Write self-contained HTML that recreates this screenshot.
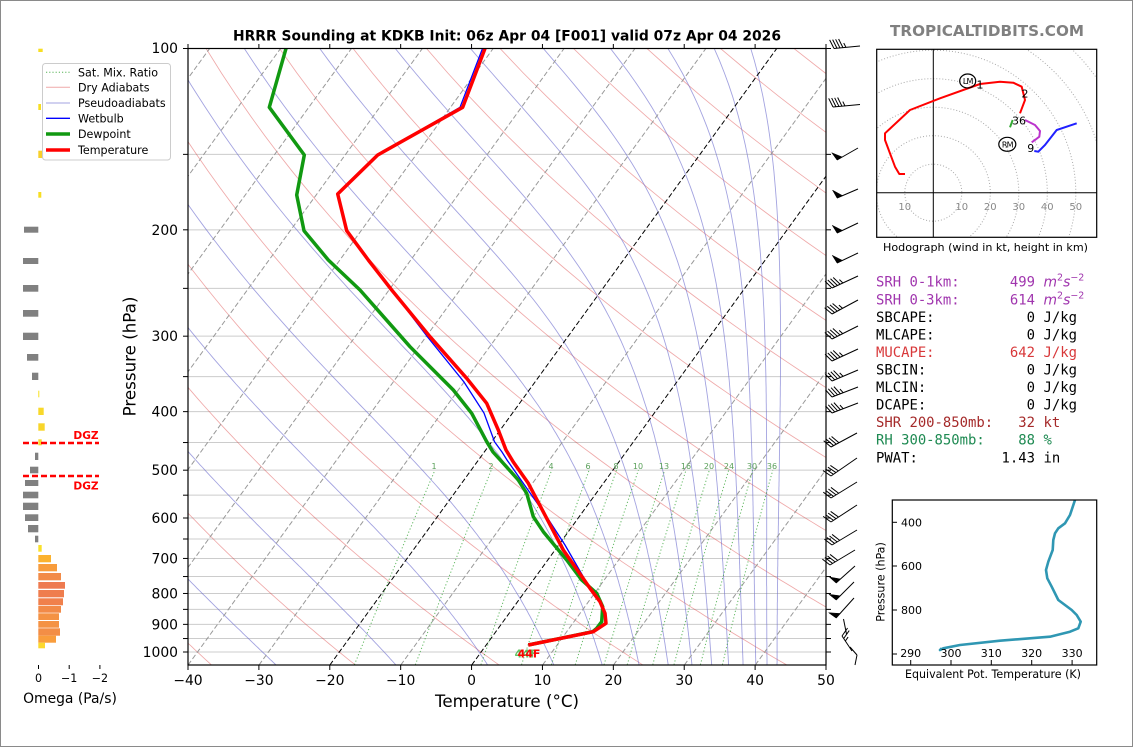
<!DOCTYPE html>
<html><head><meta charset="utf-8">
<style>
html,body{margin:0;padding:0;background:#fff;}
svg{display:block;}
text{font-family:"DejaVu Sans","Liberation Sans",sans-serif;}
.mono text,text.mono{font-family:"DejaVu Sans Mono","Liberation Mono",monospace;font-size:13.9px;}
.mono tspan.it{font-family:"DejaVu Sans","Liberation Sans",sans-serif;font-style:italic;}
.mono tspan.sup{font-family:"DejaVu Sans","Liberation Sans",sans-serif;font-size:9.5px;}
</style></head>
<body>
<svg id="S" width="1134" height="748" viewBox="0 0 1134 748" xmlns="http://www.w3.org/2000/svg">
<rect x="0" y="0" width="1134" height="748" fill="#fff"/>
<rect x="0.5" y="0.5" width="1132" height="746" fill="none" stroke="#8a8a8a" stroke-width="1"/>
<defs>
<clipPath id="cm"><rect x="188" y="48.5" width="638" height="616.5"/></clipPath>
<clipPath id="ch"><rect x="877" y="49.5" width="219.5" height="187.5"/></clipPath>
<clipPath id="ct"><rect x="892.5" y="500" width="204" height="165"/></clipPath>
</defs>

<!-- Title -->
<text x="507" y="40.7" text-anchor="middle" font-weight="bold" font-size="13.9" textLength="548" lengthAdjust="spacingAndGlyphs">HRRR Sounding at KDKB Init: 06z Apr 04 [F001] valid 07z Apr 04 2026</text>
<text x="987" y="36" text-anchor="middle" font-weight="bold" font-size="15.5" fill="#808080" textLength="194" lengthAdjust="spacingAndGlyphs">TROPICALTIDBITS.COM</text>

<!-- Main plot gridlines -->
<g stroke="#cccccc" stroke-width="1">
<line x1="188" x2="826" y1="154.36" y2="154.36"/>
<line x1="188" x2="826" y1="229.82" y2="229.82"/>
<line x1="188" x2="826" y1="288.36" y2="288.36"/>
<line x1="188" x2="826" y1="336.18" y2="336.18"/>
<line x1="188" x2="826" y1="376.62" y2="376.62"/>
<line x1="188" x2="826" y1="411.64" y2="411.64"/>
<line x1="188" x2="826" y1="442.54" y2="442.54"/>
<line x1="188" x2="826" y1="470.18" y2="470.18"/>
<line x1="188" x2="826" y1="495.18" y2="495.18"/>
<line x1="188" x2="826" y1="518" y2="518"/>
<line x1="188" x2="826" y1="539" y2="539"/>
<line x1="188" x2="826" y1="558.44" y2="558.44"/>
<line x1="188" x2="826" y1="576.54" y2="576.54"/>
<line x1="188" x2="826" y1="593.47" y2="593.47"/>
<line x1="188" x2="826" y1="609.37" y2="609.37"/>
<line x1="188" x2="826" y1="624.36" y2="624.36"/>
<line x1="188" x2="826" y1="638.54" y2="638.54"/>
<line x1="188" x2="826" y1="652" y2="652"/>
</g>

<g clip-path="url(#cm)">
<g id="bg"></g>
<!-- mixing ratio labels -->
<g font-size="8" fill="#5aa05a" text-anchor="middle">
<text x="434" y="469">1</text><text x="491" y="469">2</text><text x="551" y="469">4</text><text x="588" y="469">6</text>
<text x="616" y="469">8</text><text x="638" y="469">10</text><text x="664" y="469">13</text><text x="686" y="469">16</text>
<text x="709" y="469">20</text><text x="729" y="469">24</text><text x="752" y="469">30</text><text x="772" y="469">36</text>
</g>
<!-- Dewpoint -->
<polyline fill="none" stroke="#119911" stroke-width="3.5" stroke-linejoin="round" points="286,48.5 269.3,107.3 304.3,155 296.7,195 304,230.7 328.3,260 360,290 410,346.7 453.3,390 471.7,413.3 486.7,441.7 493,452 503,463 518.3,480 526.7,493.3 533.3,516.7 543.3,531.7 566.7,560 581.7,580 596.7,593.3 602.7,606.7 601.7,621.7 596.7,628.3 592.7,631.7 528.3,645"/>
<!-- Wetbulb -->
<polyline fill="none" stroke="#0000ff" stroke-width="1.3" points="482.5,48.5 460,107.3 377.7,155 337.7,194 346.7,230.7 368.3,260 391.7,290 428,337.5 464,382 484,413 494.5,441.7 502,452 507,460 521,480 546.7,516.7 565,545 588,585 600,601.7 605,613.3 606,623.3 593.3,631.7 528.3,645"/>
<!-- Temperature -->
<polyline fill="none" stroke="#ff0000" stroke-width="3.5" stroke-linejoin="round" points="485,48.5 462.7,107.3 377.7,155 337.7,194 346.7,230.7 368.3,260 391.7,290 430,336.7 466.7,378.3 486.7,403.3 498.3,430 506,450 513.3,462 528.3,483.3 563.3,550 590,588.3 600,601.7 605,613.3 606,623.3 593.3,631.7 528.3,645"/>
<text x="526" y="657.5" text-anchor="middle" font-weight="bold" font-size="11" fill="#22aa22" opacity="0.7">44F</text>
<text x="529" y="657.5" text-anchor="middle" font-weight="bold" font-size="11" fill="#ff0000">44F</text>
</g>

<!-- Main axes frame -->
<rect x="188" y="48.5" width="638" height="616.5" fill="none" stroke="#000" stroke-width="1.2"/>
<g stroke="#000" stroke-width="1">
<line x1="183" x2="188" y1="48.5" y2="48.5"/><line x1="183" x2="188" y1="154.36" y2="154.36"/><line x1="183" x2="188" y1="229.82" y2="229.82"/>
<line x1="183" x2="188" y1="288.36" y2="288.36"/><line x1="183" x2="188" y1="336.18" y2="336.18"/><line x1="183" x2="188" y1="376.62" y2="376.62"/>
<line x1="183" x2="188" y1="411.64" y2="411.64"/><line x1="183" x2="188" y1="442.54" y2="442.54"/><line x1="183" x2="188" y1="470.18" y2="470.18"/>
<line x1="183" x2="188" y1="495.18" y2="495.18"/><line x1="183" x2="188" y1="518" y2="518"/><line x1="183" x2="188" y1="539" y2="539"/>
<line x1="183" x2="188" y1="558.44" y2="558.44"/><line x1="183" x2="188" y1="576.54" y2="576.54"/><line x1="183" x2="188" y1="593.47" y2="593.47"/>
<line x1="183" x2="188" y1="609.37" y2="609.37"/><line x1="183" x2="188" y1="624.36" y2="624.36"/><line x1="183" x2="188" y1="638.54" y2="638.54"/>
<line x1="183" x2="188" y1="652" y2="652"/>
<line x1="826" x2="831" y1="48.5" y2="48.5"/><line x1="826" x2="831" y1="154.36" y2="154.36"/><line x1="826" x2="831" y1="229.82" y2="229.82"/>
<line x1="826" x2="831" y1="288.36" y2="288.36"/><line x1="826" x2="831" y1="336.18" y2="336.18"/><line x1="826" x2="831" y1="376.62" y2="376.62"/>
<line x1="826" x2="831" y1="411.64" y2="411.64"/><line x1="826" x2="831" y1="442.54" y2="442.54"/><line x1="826" x2="831" y1="470.18" y2="470.18"/>
<line x1="826" x2="831" y1="495.18" y2="495.18"/><line x1="826" x2="831" y1="518" y2="518"/><line x1="826" x2="831" y1="539" y2="539"/>
<line x1="826" x2="831" y1="558.44" y2="558.44"/><line x1="826" x2="831" y1="576.54" y2="576.54"/><line x1="826" x2="831" y1="593.47" y2="593.47"/>
<line x1="826" x2="831" y1="609.37" y2="609.37"/><line x1="826" x2="831" y1="624.36" y2="624.36"/><line x1="826" x2="831" y1="638.54" y2="638.54"/>
<line x1="826" x2="831" y1="652" y2="652"/>
<line x1="188" x2="188" y1="665" y2="670"/><line x1="258.89" x2="258.89" y1="665" y2="670"/><line x1="329.78" x2="329.78" y1="665" y2="670"/>
<line x1="400.67" x2="400.67" y1="665" y2="670"/><line x1="471.56" x2="471.56" y1="665" y2="670"/><line x1="542.44" x2="542.44" y1="665" y2="670"/>
<line x1="613.33" x2="613.33" y1="665" y2="670"/><line x1="684.22" x2="684.22" y1="665" y2="670"/><line x1="755.11" x2="755.11" y1="665" y2="670"/>
<line x1="826" x2="826" y1="665" y2="670"/>
<line x1="188" x2="188" y1="44" y2="48.5"/><line x1="258.89" x2="258.89" y1="44" y2="48.5"/><line x1="329.78" x2="329.78" y1="44" y2="48.5"/>
<line x1="400.67" x2="400.67" y1="44" y2="48.5"/><line x1="471.56" x2="471.56" y1="44" y2="48.5"/><line x1="542.44" x2="542.44" y1="44" y2="48.5"/>
<line x1="613.33" x2="613.33" y1="44" y2="48.5"/><line x1="684.22" x2="684.22" y1="44" y2="48.5"/><line x1="755.11" x2="755.11" y1="44" y2="48.5"/>
<line x1="826" x2="826" y1="44" y2="48.5"/>
</g>
<g font-size="13.9" text-anchor="end">
<text x="178" y="53">100</text><text x="178" y="234.8">200</text><text x="178" y="341.2">300</text><text x="178" y="416.6">400</text>
<text x="178" y="475.2">500</text><text x="178" y="523">600</text><text x="178" y="563.4">700</text><text x="178" y="598.5">800</text>
<text x="178" y="629.4">900</text><text x="178" y="657">1000</text>
</g>
<g font-size="13.9" text-anchor="middle">
<text x="188" y="685">−40</text><text x="258.89" y="685">−30</text><text x="329.78" y="685">−20</text><text x="400.67" y="685">−10</text>
<text x="471.56" y="685">0</text><text x="542.44" y="685">10</text><text x="613.33" y="685">20</text><text x="684.22" y="685">30</text>
<text x="755.11" y="685">40</text><text x="826" y="685">50</text>
</g>
<text x="507" y="707" text-anchor="middle" font-size="16.7">Temperature (°C)</text>
<text transform="translate(135.5,356.5) rotate(-90)" text-anchor="middle" font-size="16.7">Pressure (hPa)</text>

<!-- Wind barbs -->
<g id="barbs" stroke="#000" stroke-width="1" fill="#000"></g>

<!-- Omega panel -->
<g>
<rect x="38.3" y="48.7" width="4.4" height="3.3" fill="#f7de22"/>
<rect x="38.3" y="104" width="2.7" height="6" fill="#f7de22"/>
<rect x="38.3" y="150.7" width="5" height="7.3" fill="#f8d02a"/>
<rect x="38.3" y="192" width="3" height="5.7" fill="#f7de22"/>
<g fill="#808080">
<rect x="24" y="226.7" width="14.3" height="6"/>
<rect x="23" y="258" width="15.3" height="6"/>
<rect x="23" y="285" width="15.3" height="6.7"/>
<rect x="23" y="310" width="15.3" height="6.7"/>
<rect x="23" y="332.7" width="15.3" height="7.3"/>
<rect x="27" y="354" width="11.3" height="6.7"/>
<rect x="32" y="372.7" width="6.3" height="7.3"/>
<rect x="35" y="452.7" width="3.3" height="7.3"/>
<rect x="30" y="466.7" width="8.3" height="6.6"/>
<rect x="25" y="480" width="13.3" height="6"/>
<rect x="23" y="491.7" width="15.3" height="6.6"/>
<rect x="23" y="502.7" width="15.3" height="7.3"/>
<rect x="25" y="514.3" width="13.3" height="6.7"/>
<rect x="28" y="525" width="10.3" height="7.3"/>
<rect x="35" y="535.7" width="3.3" height="6.6"/>
</g>
<rect x="38.3" y="390.7" width="1" height="6.6" fill="#f7e020"/>
<rect x="38.3" y="407.7" width="5.4" height="7.3" fill="#f8d82a"/>
<rect x="38.3" y="423.3" width="6.4" height="7.4" fill="#f8d52a"/>
<rect x="38.3" y="439.3" width="3.4" height="6" fill="#f8d82a"/>
<rect x="38.3" y="545" width="3.4" height="6.7" fill="#f9e02a"/>
<rect x="38.3" y="555" width="12.7" height="7.3" fill="#fbb22e"/>
<rect x="38.3" y="564" width="18.7" height="7.3" fill="#f89c3c"/>
<rect x="38.3" y="573" width="22.7" height="7.3" fill="#f28b48"/>
<rect x="38.3" y="582" width="26.7" height="6.7" fill="#ee7a50"/>
<rect x="38.3" y="590" width="25.7" height="7.3" fill="#ef7d4e"/>
<rect x="38.3" y="598.3" width="24.7" height="7" fill="#f0804c"/>
<rect x="38.3" y="606" width="22.7" height="6.7" fill="#f28a48"/>
<rect x="38.3" y="613.3" width="20.7" height="6.7" fill="#f49244"/>
<rect x="38.3" y="621" width="20.7" height="6.7" fill="#f49244"/>
<rect x="38.3" y="628.3" width="21.7" height="7.4" fill="#f38e46"/>
<rect x="38.3" y="635.7" width="17.7" height="7" fill="#f99d3c"/>
<rect x="38.3" y="642.7" width="6.7" height="5.6" fill="#fcd82e"/>
<g stroke="#ff0000" stroke-width="2.5" stroke-dasharray="6,3">
<line x1="23" x2="99" y1="443" y2="443"/>
<line x1="23" x2="99" y1="476" y2="476"/>
</g>
<text x="86" y="439" text-anchor="middle" font-weight="bold" font-size="10.6" fill="#ff0000">DGZ</text>
<text x="86" y="489.5" text-anchor="middle" font-weight="bold" font-size="10.6" fill="#ff0000">DGZ</text>
<g stroke="#000" stroke-width="1">
<line x1="38.5" x2="38.5" y1="665" y2="669"/><line x1="69.2" x2="69.2" y1="665" y2="669"/><line x1="99.9" x2="99.9" y1="665" y2="669"/>
</g>
<g font-size="11.1" text-anchor="middle">
<text x="38.5" y="682">0</text><text x="69.2" y="682">−1</text><text x="99.9" y="682">−2</text>
</g>
<text x="70" y="703" text-anchor="middle" font-size="13.9">Omega (Pa/s)</text>
</g>

<!-- Legend -->
<rect x="42.5" y="63.5" width="128" height="96.5" rx="3" fill="#fff" fill-opacity="0.85" stroke="#cccccc" stroke-width="1"/>
<line x1="46" x2="70" y1="72.3" y2="72.3" stroke="#2ca02c" stroke-opacity="0.8" stroke-width="1" stroke-dasharray="1.2,2"/>
<line x1="46" x2="70" y1="87.3" y2="87.3" stroke="#d62728" stroke-opacity="0.4" stroke-width="1"/>
<line x1="46" x2="70" y1="103" y2="103" stroke="#6666cc" stroke-opacity="0.6" stroke-width="1"/>
<line x1="46" x2="70" y1="118.3" y2="118.3" stroke="#0000ff" stroke-width="1.3"/>
<line x1="46" x2="70" y1="134" y2="134" stroke="#119911" stroke-width="3.5"/>
<line x1="46" x2="70" y1="150" y2="150" stroke="#ff0000" stroke-width="3.5"/>
<g font-size="11.1">
<text x="78" y="76.3">Sat. Mix. Ratio</text>
<text x="78" y="91.3">Dry Adiabats</text>
<text x="78" y="107">Pseudoadiabats</text>
<text x="78" y="122.3">Wetbulb</text>
<text x="78" y="138">Dewpoint</text>
<text x="78" y="154">Temperature</text>
</g>

<!-- Hodograph -->
<g clip-path="url(#ch)">
<g fill="none" stroke="#aaaaaa" stroke-width="1" stroke-dasharray="1,2">
<circle cx="933.3" cy="192.7" r="28.5"/><circle cx="933.3" cy="192.7" r="57"/><circle cx="933.3" cy="192.7" r="85.5"/>
<circle cx="933.3" cy="192.7" r="114"/><circle cx="933.3" cy="192.7" r="142.5"/><circle cx="933.3" cy="192.7" r="171"/>
<circle cx="933.3" cy="192.7" r="199.5"/><circle cx="933.3" cy="192.7" r="228"/>
</g>
<line x1="933.3" x2="933.3" y1="49" y2="237.5" stroke="#000" stroke-width="1"/>
<line x1="876.5" x2="1096.5" y1="192.7" y2="192.7" stroke="#000" stroke-width="1"/>
<g font-size="10" fill="#888" text-anchor="middle">
<text x="904.8" y="210">10</text><text x="961.8" y="210">10</text><text x="990.3" y="210">20</text>
<text x="1018.8" y="210">30</text><text x="1047.3" y="210">40</text><text x="1075.8" y="210">50</text>
</g>
<polyline fill="none" stroke="#ff0000" stroke-width="2" stroke-linejoin="round" points="905,174 899.3,174 895,166.7 885,140 885,133.3 910,110 940,98.3 980,84 1000,81.7 1013.3,82.7 1021.7,86.7 1025,100 1020,113.3"/>
<polyline fill="none" stroke="#33aa33" stroke-width="2" points="1010,127.3 1012.7,120"/>
<polyline fill="none" stroke="#bb33cc" stroke-width="2" points="1025,120 1035,125 1040,131 1039.3,136.7 1035,140 1031.7,142.3"/>
<polyline fill="none" stroke="#2020ff" stroke-width="2" points="1034.3,151 1038.3,151.7 1045,145 1056.7,130 1076.7,123.3"/>
<ellipse cx="967.7" cy="81" rx="8" ry="7" fill="none" stroke="#000" stroke-width="1.2"/>
<text x="967.7" y="84" text-anchor="middle" font-size="8" letter-spacing="-0.8">LM</text>
<ellipse cx="1007.3" cy="144.3" rx="8.5" ry="7" fill="none" stroke="#000" stroke-width="1.2"/>
<text x="1007.3" y="147.3" text-anchor="middle" font-size="8" letter-spacing="-0.8">RM</text>
<g font-size="11" text-anchor="middle">
<text x="980" y="88.5">1</text><text x="1025" y="97.5">2</text><text x="1019" y="124.5">36</text><text x="1030.7" y="152">9</text>
</g>
</g>
<rect x="876.7" y="49.3" width="220" height="188" fill="none" stroke="#000" stroke-width="1.2"/>
<text x="985.5" y="251" text-anchor="middle" font-size="11" textLength="205" lengthAdjust="spacingAndGlyphs">Hodograph (wind in kt, height in km)</text>

<!-- Stats -->
<g class="mono">
<text x="876" y="286.7" fill="#a035ae">SRH 0-1km:</text>
<text x="1035" y="286.7" fill="#a035ae" text-anchor="end">499</text>
<text x="1043.5" y="286.7" fill="#a035ae"><tspan class="it">m</tspan><tspan class="sup" dy="-6">2</tspan><tspan class="it" dy="6">s</tspan><tspan class="sup" dy="-6">−2</tspan></text>
<text x="876" y="304.3" fill="#a035ae">SRH 0-3km:</text>
<text x="1035" y="304.3" fill="#a035ae" text-anchor="end">614</text>
<text x="1043.5" y="304.3" fill="#a035ae"><tspan class="it">m</tspan><tspan class="sup" dy="-6">2</tspan><tspan class="it" dy="6">s</tspan><tspan class="sup" dy="-6">−2</tspan></text>
<text x="876" y="321.8">SBCAPE:</text><text x="1035" y="321.8" text-anchor="end">0</text><text x="1043.5" y="321.8">J/kg</text>
<text x="876" y="339.4">MLCAPE:</text><text x="1035" y="339.4" text-anchor="end">0</text><text x="1043.5" y="339.4">J/kg</text>
<text x="876" y="356.9" fill="#d8383a">MUCAPE:</text><text x="1035" y="356.9" text-anchor="end" fill="#d8383a">642</text><text x="1043.5" y="356.9" fill="#d8383a">J/kg</text>
<text x="876" y="374.5">SBCIN:</text><text x="1035" y="374.5" text-anchor="end">0</text><text x="1043.5" y="374.5">J/kg</text>
<text x="876" y="392.1">MLCIN:</text><text x="1035" y="392.1" text-anchor="end">0</text><text x="1043.5" y="392.1">J/kg</text>
<text x="876" y="409.6">DCAPE:</text><text x="1035" y="409.6" text-anchor="end">0</text><text x="1043.5" y="409.6">J/kg</text>
<text x="876" y="427.2" fill="#a52a2a">SHR 200-850mb:</text><text x="1035" y="427.2" text-anchor="end" fill="#a52a2a">32</text><text x="1043.5" y="427.2" fill="#a52a2a">kt</text>
<text x="876" y="444.7" fill="#1e8a52">RH 300-850mb:</text><text x="1035" y="444.7" text-anchor="end" fill="#1e8a52">88</text><text x="1043.5" y="444.7" fill="#1e8a52">%</text>
<text x="876" y="462.3">PWAT:</text><text x="1035" y="462.3" text-anchor="end">1.43</text><text x="1043.5" y="462.3">in</text>
</g>

<!-- Theta-e panel -->
<g clip-path="url(#ct)">
<polyline fill="none" stroke="#2f97b3" stroke-width="2.6" stroke-linejoin="round" points="1075,500 1070,515 1065,523.3 1058.3,528.3 1055,533.3 1053.3,540 1052.7,550 1048.3,561.7 1046,570 1047.3,578.3 1051.7,586.7 1058.3,600 1065,605 1071.7,610 1076.7,615 1080.7,621.7 1078.3,628.3 1070,631.7 1050,636.7 1000,640.7 960,645 943.3,648.3 940,650 941.7,648.3"/>
</g>
<rect x="892.3" y="500" width="204.4" height="165" fill="none" stroke="#000" stroke-width="1.2"/>
<g stroke="#000" stroke-width="1">
<line x1="892.3" x2="897" y1="522.3" y2="522.3"/><line x1="892.3" x2="897" y1="566" y2="566"/>
<line x1="892.3" x2="897" y1="610" y2="610"/><line x1="892.3" x2="897" y1="654" y2="654"/>
<line x1="910.7" x2="910.7" y1="660" y2="665"/><line x1="951" x2="951" y1="660" y2="665"/><line x1="991.3" x2="991.3" y1="660" y2="665"/>
<line x1="1031.7" x2="1031.7" y1="660" y2="665"/><line x1="1072.1" x2="1072.1" y1="660" y2="665"/>
</g>
<g font-size="11" text-anchor="end">
<text x="922" y="526.3">400</text><text x="922" y="570">600</text><text x="922" y="614">800</text>
</g>
<g font-size="11" text-anchor="middle">
<text x="910.7" y="657">290</text><text x="951" y="657">300</text><text x="991.3" y="657">310</text>
<text x="1031.7" y="657">320</text><text x="1072.1" y="657">330</text>
</g>
<text x="993" y="678" text-anchor="middle" font-size="11.1" textLength="176" lengthAdjust="spacingAndGlyphs">Equivalent Pot. Temperature (K)</text>
<text transform="translate(884.5,582) rotate(-90)" text-anchor="middle" font-size="11.1">Pressure (hPa)</text>
</svg>

<script>
(function(){
var NS="http://www.w3.org/2000/svg";
var PX=638/90, SK=0.725;
function yp(p){return 48+604*Math.log10(p/100);}
function xt(T,p){return 188+(T+40)*PX+SK*(665-yp(p));}
function poly(g,pts,attrs){var e=document.createElementNS(NS,'polyline');
 e.setAttribute('points',pts.map(function(a){return a[0].toFixed(1)+','+a[1].toFixed(1);}).join(' '));
 e.setAttribute('fill','none');for(var k in attrs)e.setAttribute(k,attrs[k]);g.appendChild(e);}
var g=document.getElementById('bg');
for(var th=-60;th<=260;th+=20){var pts=[];for(var p=1050;p>=100;p-=10){var T=(th+273.15)*Math.pow(p/1000,0.2857)-273.15;pts.push([xt(T,p),yp(p)]);}
 poly(g,pts,{stroke:'#d62728','stroke-opacity':'0.4','stroke-width':'0.85'});}
function es(Tc){return 6.112*Math.exp(17.67*Tc/(Tc+243.5));}
function rsat(Tk,p){var e=es(Tk-273.15);return 0.622*e/Math.max(p-e,1);}
function thetaE(Tk,p){var r=rsat(Tk,p)*1000;var thl=Tk*Math.pow(1000/p,0.2854*(1-0.00028*r));return thl*Math.exp((3.376/Tk-0.00254)*r*(1+0.00081*r));}
function lapse(Tk,p){var Rd=287.04,Cp=1005.7,Lv=2.501e6,eps=0.622;var r=rsat(Tk,p);return (Rd*Tk+Lv*r)/(p*(Cp+Lv*Lv*r*eps/(Rd*Tk*Tk)));}
for(var k=0;k<=13;k++){var te=243.15+20*k;var lo=180,hi=330;
 for(var i=0;i<60;i++){var m=(lo+hi)/2;if(thetaE(m,1050)>te)hi=m;else lo=m;}
 var T=(lo+hi)/2,p=1050,pts=[[xt(T-273.15,p),yp(p)]],dp=-5;
 while(p>100.01){var k1=lapse(T,p),k2=lapse(T+dp/2*k1,p+dp/2),k3=lapse(T+dp/2*k2,p+dp/2),k4=lapse(T+dp*k3,p+dp);
  T+=dp*(k1+2*k2+2*k3+k4)/6;p+=dp;pts.push([xt(T-273.15,p),yp(p)]);}
 poly(g,pts,{stroke:'#6666cc','stroke-opacity':'0.6','stroke-width':'0.9'});}
for(var T=-160;T<=50;T+=10){var c=(T===0||T===-20)?'#000':'#999';
 poly(g,[[xt(T,1050),665],[xt(T,100),48]],{stroke:c,'stroke-width':'1','stroke-dasharray':'5,2.5'});}
var ws=[1,2,4,6,8,10,13,16,20,24,30,36];
for(var j=0;j<ws.length;j++){var w=ws[j],pts=[];for(var p=1050;p>=500;p-=10){var e=w*p/(622+w);var l=Math.log(e/6.112);var Td=243.5*l/(17.67-l);pts.push([xt(Td,p),yp(p)]);}
 poly(g,pts,{stroke:'#2ca02c','stroke-opacity':'0.75','stroke-width':'1','stroke-dasharray':'1.2,2.2'});}
var G=document.getElementById('barbs');
function ln(x1,y1,x2,y2){var e=document.createElementNS(NS,'line');e.setAttribute('x1',x1);e.setAttribute('y1',y1);e.setAttribute('x2',x2);e.setAttribute('y2',y2);G.appendChild(e);}
function barb(b){var bx=b[0],by=b[1],tx=b[2],ty=b[3],nf=b[4],nb=b[5],nh=b[6];
 var dx=tx-bx,dy=ty-by,L=Math.hypot(dx,dy),ux=dx/L,uy=dy/L,nx=-uy,ny=ux;
 ln(bx,by,tx,ty);var d=0,bl=9;
 for(var i=0;i<nf;i++){var px=tx-ux*d,py=ty-uy*d;var e=document.createElementNS(NS,'polygon');
  e.setAttribute('points',[px,py,px+nx*bl+ux*1,py+ny*bl+uy*1,tx-ux*(d+6),ty-uy*(d+6)].map(function(v){return v.toFixed(1);}).join(' '));
  e.setAttribute('stroke-width','0.5');G.appendChild(e);d+=7;}
 for(var i=0;i<nb;i++){var px=tx-ux*d,py=ty-uy*d;ln(px,py,px+nx*bl+ux*3.5,py+ny*bl+uy*3.5);d+=3;}
 for(var i=0;i<nh;i++){var px=tx-ux*d,py=ty-uy*d;ln(px,py,px+nx*bl/2+ux*1.75,py+ny*bl/2+uy*1.75);d+=3;}}
var B=[[860,46,834,48.5,0,4,1],[860,104.5,833,107,0,4,1],[858,148,837,160,1,0,0],[858,189,837,198,1,0,0],
[858,223,837,233,1,0,0],[858,253,837,263,1,0,0],[858,276,832,288,0,4,1],[858,300,832,314,0,4,1],
[858,326,832,339,0,4,1],[858,349,832,361,0,4,1],[858,370,832,381,0,4,1],[858,387,832,397,0,4,1],
[858,403,832,413,0,4,1],[857,433,831,447,0,4,0],[857,458,831,476,0,4,0],[857,482,831,498,0,4,0],
[857,505,831,522,0,4,0],[857,530,832,545,0,4,0],[855,550,830,565,0,4,0],[855,566,836,583,1,0,0],
[854,582,836,600,1,0,0],[854,598,836,618,1,0,0],[852,651,842,636,0,2,1]];
for(var i=0;i<B.length;i++)barb(B[i]);
ln(843.5,619,846.5,634);ln(850,647,857,655);ln(857,655,855,665);
})();
</script>
</body></html>
